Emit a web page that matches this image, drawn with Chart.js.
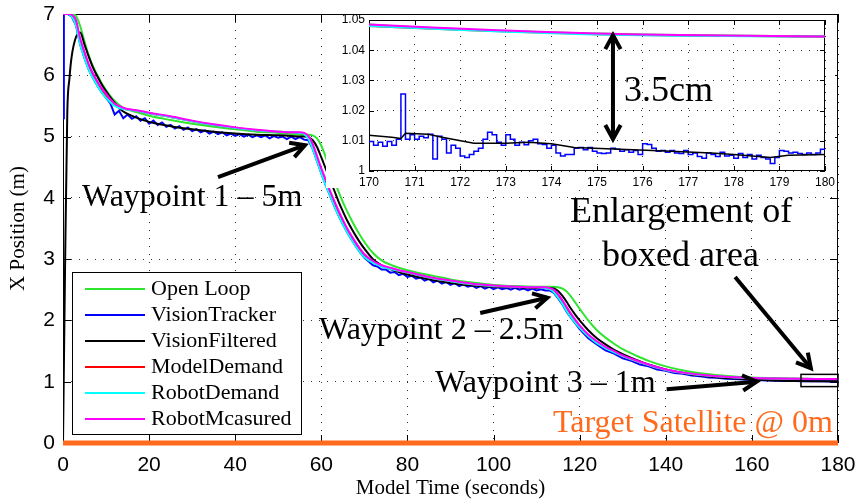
<!DOCTYPE html>
<html lang="en">
<head>
<meta charset="UTF-8">
<title>X Position vs Model Time</title>
<script src="https://cdn.jsdelivr.net/npm/chart.js"></script>
<style>
  body { margin: 0; background: #fff; }
  #wrap { position: relative; width: 857px; height: 503px; }
  #zoomBox { position: absolute; left: 326px; top: 15px; width: 509px; height: 173px; }
</style>
</head>
<body>
<div id="wrap">
  <canvas id="mainChart" width="857" height="503"></canvas>
  <div id="zoomBox"><canvas id="zoomChart" width="509" height="173"></canvas></div>
</div>
<script>
// sample times (s) shared by the smooth traces
const tGrid = [0, 0.5, 1, 1.5, 2,
  3, 4, 5, 6, 7, 8, 9, 10, 11, 12, 13, 14, 15,
  17, 20, 25, 30, 35, 40, 45, 50, 53, 55,
  56, 57, 58, 59, 60, 61, 62, 63, 64, 65, 66, 67, 68, 69, 70,
  72, 74, 76, 78, 80,
  85, 90, 95, 100, 105, 110,
  112, 113, 114, 115, 116, 117, 118, 119, 120,
  122, 124, 126, 128, 130,
  133, 136, 140, 145, 150, 155, 160, 165, 170, 175, 180];

const openLoop = [7.0, 7.0, 7.0, 7.0, 7.0,
  6.97, 6.8, 6.55, 6.32, 6.14, 6.0, 5.87, 5.76, 5.66, 5.58, 5.52, 5.47, 5.44,
  5.4, 5.34, 5.27, 5.21, 5.16, 5.12, 5.08, 5.06, 5.04, 5.03,
  5.03, 5.03, 5.02, 4.97, 4.85, 4.67, 4.47, 4.28, 4.1, 3.93, 3.78, 3.64, 3.51, 3.39, 3.28,
  3.1, 2.98, 2.91, 2.86, 2.82,
  2.74, 2.67, 2.62, 2.58, 2.56, 2.55,
  2.55, 2.55, 2.55, 2.54, 2.52, 2.47, 2.39, 2.29, 2.19,
  2.0, 1.84, 1.72, 1.62, 1.53,
  1.43, 1.34, 1.25, 1.17, 1.12, 1.088, 1.068, 1.056, 1.0485, 1.0455, 1.0445];

const visionFiltered = [0, 3.0, 5.4, 5.95, 6.3,
  6.62, 6.7, 6.5, 6.3, 6.12, 5.98, 5.85, 5.74, 5.64, 5.55, 5.47, 5.41, 5.37,
  5.31, 5.24, 5.17, 5.12, 5.08, 5.05, 5.03, 5.02, 5.01, 5.0,
  5.0, 4.99, 4.94, 4.83, 4.66, 4.48, 4.3, 4.12, 3.94, 3.78, 3.63, 3.5, 3.38, 3.27, 3.17,
  3.0, 2.9, 2.84, 2.79, 2.75,
  2.67, 2.61, 2.57, 2.55, 2.54, 2.53,
  2.53, 2.53, 2.52, 2.48, 2.4, 2.3, 2.19, 2.09, 2.0,
  1.84, 1.71, 1.61, 1.52, 1.45,
  1.36, 1.28, 1.2, 1.13, 1.085, 1.055, 1.035, 1.02, 1.012, 1.007, 1.0055];

const modelDemand = [7.0, 7.0, 7.0, 7.0, 6.97,
  6.86, 6.55, 6.33, 6.13, 5.99, 5.86, 5.75, 5.66, 5.58, 5.52, 5.48, 5.46, 5.44,
  5.42, 5.38, 5.32, 5.25, 5.19, 5.14, 5.1, 5.08, 5.07, 5.06,
  5.05, 4.98, 4.84, 4.64, 4.44, 4.25, 4.08, 3.91, 3.75, 3.6, 3.47, 3.35, 3.24, 3.14, 3.05,
  2.95, 2.89, 2.85, 2.81, 2.78,
  2.7, 2.64, 2.59, 2.56, 2.55, 2.54,
  2.53, 2.52, 2.48, 2.4, 2.3, 2.18, 2.08, 1.98, 1.9,
  1.75, 1.64, 1.56, 1.49, 1.42,
  1.34, 1.27, 1.19, 1.135, 1.098, 1.074, 1.06, 1.052, 1.048, 1.0453, 1.0445];

const robotDemand = [7.0, 7.0, 7.0, 6.99, 6.96,
  6.82, 6.5, 6.28, 6.09, 5.95, 5.83, 5.72, 5.63, 5.56, 5.5, 5.47, 5.45, 5.44,
  5.42, 5.38, 5.32, 5.25, 5.19, 5.14, 5.1, 5.08, 5.07, 5.06,
  5.04, 4.96, 4.8, 4.6, 4.4, 4.21, 4.04, 3.87, 3.71, 3.57, 3.44, 3.32, 3.21, 3.11, 3.03,
  2.94, 2.88, 2.84, 2.81, 2.78,
  2.7, 2.64, 2.59, 2.56, 2.55, 2.54,
  2.53, 2.51, 2.46, 2.37, 2.27, 2.15, 2.05, 1.96, 1.88,
  1.74, 1.63, 1.55, 1.48, 1.42,
  1.34, 1.27, 1.19, 1.135, 1.097, 1.073, 1.059, 1.052, 1.048, 1.0452, 1.0445];

const robotMeasured = [7.0, 7.0, 7.0, 7.0, 6.99,
  6.9, 6.6, 6.38, 6.18, 6.03, 5.9, 5.79, 5.7, 5.61, 5.54, 5.5, 5.47, 5.45,
  5.43, 5.39, 5.33, 5.26, 5.2, 5.15, 5.11, 5.08, 5.07, 5.07,
  5.06, 5.01, 4.88, 4.68, 4.48, 4.3, 4.12, 3.95, 3.79, 3.64, 3.5, 3.38, 3.27, 3.17, 3.08,
  2.97, 2.9, 2.86, 2.82, 2.79,
  2.71, 2.65, 2.6, 2.57, 2.55, 2.54,
  2.54, 2.53, 2.5, 2.43, 2.33, 2.22, 2.11, 2.01, 1.92,
  1.77, 1.66, 1.57, 1.5, 1.43,
  1.35, 1.28, 1.2, 1.14, 1.1, 1.075, 1.06, 1.053, 1.0485, 1.0455, 1.0445];

// raw tracker output is noisy, so it has its own sample times
const tTracker = [0, 0.2, 1, 2, 3, 4, 5, 6, 7, 8, 9, 10, 11,
  12, 13, 14, 15, 16, 17, 18, 19, 20, 21, 22, 23, 24, 25, 26, 27, 28, 29, 30, 31, 32, 33, 34,
  35, 36, 37, 38, 39, 40, 41, 42, 43, 44, 45, 46, 47, 48, 49, 50, 51, 52, 53, 54, 55, 56,
  57, 58, 59, 60, 61, 62, 63, 64, 65, 66, 67, 68, 69, 70,
  71, 72, 73, 74, 75, 76, 77, 78, 79, 80, 81, 82, 83, 84, 85, 86, 87, 88, 89, 90,
  91, 92, 93, 94, 95, 96, 97, 98, 99, 100, 101, 102, 103, 104, 105, 106, 107, 108, 109, 110, 111, 112,
  113, 114, 115, 116, 117, 118, 119, 120,
  122, 124, 126, 128, 130, 132, 134, 136, 138, 140, 142, 144, 146, 148, 150,
  152, 154, 156, 158, 160, 162, 164, 166, 168, 170,
  172, 174, 176, 178, 180];

const visionTracker = [5.3, 7.0, 7.0, 6.96, 6.82, 6.5, 6.28, 6.09, 5.95, 5.83, 5.72, 5.63, 5.54,
  5.36, 5.42, 5.3, 5.36, 5.29, 5.33, 5.26, 5.3, 5.21, 5.26, 5.19, 5.23, 5.16, 5.19, 5.13, 5.17, 5.11, 5.15, 5.09, 5.12, 5.07, 5.1, 5.05,
  5.08, 5.04, 5.07, 5.02, 5.05, 5.01, 5.04, 5.0, 5.03, 4.99, 5.02, 4.99, 5.02, 4.97, 5.01, 4.98, 5.0, 4.96, 5.0, 4.96, 4.99, 4.95,
  4.94, 4.8, 4.6, 4.4, 4.21, 4.04, 3.87, 3.71, 3.57, 3.44, 3.32, 3.21, 3.11, 3.02,
  2.96, 2.9, 2.88, 2.83, 2.83, 2.78, 2.79, 2.74, 2.76, 2.71, 2.73, 2.68, 2.7, 2.65, 2.68, 2.62, 2.65, 2.6, 2.63, 2.58,
  2.61, 2.56, 2.59, 2.55, 2.57, 2.53, 2.56, 2.52, 2.55, 2.51, 2.54, 2.51, 2.53, 2.5, 2.53, 2.5, 2.52, 2.49, 2.52, 2.49, 2.51, 2.49,
  2.49, 2.45, 2.36, 2.26, 2.14, 2.04, 1.95, 1.86,
  1.71, 1.61, 1.51, 1.46, 1.38, 1.34, 1.28, 1.25, 1.2, 1.18, 1.14, 1.13, 1.1, 1.09, 1.07,
  1.065, 1.05, 1.045, 1.035, 1.032, 1.022, 1.02, 1.014, 1.013, 1.01,
  1.008, 1.006, 1.007, 1.005, 1.007];

// enlarged window 170-180 s
const tZoom = [170, 170.1, 170.2, 170.3, 170.4, 170.5, 170.6, 170.7, 170.8, 170.9,
  171, 171.1, 171.2, 171.3, 171.4, 171.5, 171.6, 171.7, 171.8, 171.9,
  172, 172.1, 172.2, 172.3, 172.4, 172.5, 172.6, 172.7, 172.8, 172.9,
  173, 173.1, 173.2, 173.3, 173.4, 173.5, 173.6, 173.7, 173.8, 173.9,
  174, 174.1, 174.2, 174.3, 174.4, 174.5, 174.6, 174.7, 174.8, 174.9,
  175, 175.1, 175.2, 175.3, 175.4, 175.5, 175.6, 175.7, 175.8, 175.9,
  176, 176.1, 176.2, 176.3, 176.4, 176.5, 176.6, 176.7, 176.8, 176.9,
  177, 177.1, 177.2, 177.3, 177.4, 177.5, 177.6, 177.7, 177.8, 177.9,
  178, 178.1, 178.2, 178.3, 178.4, 178.5, 178.6, 178.7, 178.8, 178.9,
  179, 179.1, 179.2, 179.3, 179.4, 179.5, 179.6, 179.7, 179.8, 179.9, 180];

const trackerZoom = [1.0098, 1.0085, 1.0095, 1.0082, 1.0098, 1.0085, 1.0105, 1.0255, 1.0105, 1.012,
  1.0105, 1.0115, 1.011, 1.0122, 1.004, 1.0115, 1.0105, 1.006, 1.0085, 1.0075,
  1.005, 1.0045, 1.0055, 1.0065, 1.0075, 1.0105, 1.0128, 1.012, 1.0095, 1.0085,
  1.012, 1.0105, 1.0085, 1.0095, 1.0087, 1.01, 1.0105, 1.009, 1.0088, 1.0075,
  1.0085, 1.006, 1.005, 1.0055, 1.0055, 1.0075, 1.0078, 1.007, 1.0078, 1.0065,
  1.006, 1.0058, 1.006, 1.0075, 1.0072, 1.0065, 1.007, 1.0062, 1.0068, 1.0055,
  1.009, 1.0088, 1.0075, 1.0065, 1.0068, 1.0062, 1.0068, 1.006, 1.0058, 1.0068,
  1.0055, 1.006, 1.0048, 1.0042, 1.006, 1.0055, 1.0048, 1.0062, 1.005, 1.0052,
  1.0042, 1.0058, 1.0045, 1.0055, 1.004, 1.0052, 1.0045, 1.004, 1.0025, 1.0045,
  1.0068, 1.0065, 1.006, 1.0062, 1.0058, 1.0055, 1.006, 1.0055, 1.006, 1.0072, 1.0068];

const tFilteredZoom = [170, 170.5, 170.7, 170.8, 171.3, 171.6, 172.3, 173, 173.5, 174, 174.5, 175.5, 176.5, 177.5, 178, 178.8, 179.2, 180];
const filteredZoom = [1.0118, 1.0112, 1.0108, 1.0125, 1.0122, 1.0112, 1.0092, 1.0092, 1.0095, 1.009, 1.0078, 1.0072, 1.0066, 1.006, 1.0055, 1.0045, 1.0052, 1.0055];

const tSatellite = [0, 180];
const satellite = [0, 0];

const serif = '"Liberation Serif", "Times New Roman", serif';
const sans = '"Liberation Sans", Arial, sans-serif';
const orange = '#ff6a1c';

const pts = (ts, vs) => ts.map((t, i) => ({ x: t, y: vs[i] }));

const traces = [
  { label: 'Open Loop',      color: '#2ee62e', t: tGrid,    v: openLoop },
  { label: 'VisionTracker',  color: '#0000ff', t: tTracker, v: visionTracker, raw: true },
  { label: 'VisionFiltered', color: '#000000', t: tGrid,    v: visionFiltered },
  { label: 'ModelDemand',    color: '#ff0000', t: tGrid,    v: modelDemand },
  { label: 'RobotDemand',    color: '#00ffff', t: tGrid,    v: robotDemand },
  { label: 'RobotMcasured',  color: '#ff00ff', t: tGrid,    v: robotMeasured }
];

function lineSet(tr, i, data, extra) {
  return Object.assign({
    label: tr.label,
    data: data,
    borderColor: tr.color,
    borderWidth: 2,
    pointRadius: 0,
    tension: 0,
    cubicInterpolationMode: tr.raw ? 'default' : 'monotone',
    order: traces.length - i
  }, extra || {});
}

// fixed axis sizes, and no extra room for the end labels
const fixX = h => s => { s.height = h; s.paddingLeft = 0; s.paddingRight = 0; };
const fixY = w => s => { s.width = w; s.paddingTop = 0; s.paddingBottom = 0; };

// box + inward ticks like the original plot
const framePlugin = {
  id: 'frame',
  beforeDatasetsDraw(chart, args, opts) {
    const { ctx, chartArea: a, scales: { x, y } } = chart;
    const len = opts.len || 6;
    ctx.save();
    ctx.strokeStyle = '#000';
    ctx.lineWidth = 1;
    ctx.strokeRect(a.left + 0.5, a.top + 0.5, a.width - 1, a.height - 1);
    ctx.beginPath();
    x.ticks.forEach(t => {
      const px = Math.round(x.getPixelForValue(t.value)) + 0.5;
      ctx.moveTo(px, a.bottom); ctx.lineTo(px, a.bottom - len);
      ctx.moveTo(px, a.top); ctx.lineTo(px, a.top + len);
    });
    y.ticks.forEach(t => {
      const py = Math.round(y.getPixelForValue(t.value)) + 0.5;
      ctx.moveTo(a.left, py); ctx.lineTo(a.left + len, py);
      ctx.moveTo(a.right, py); ctx.lineTo(a.right - len, py);
    });
    ctx.stroke();
    ctx.restore();
  }
};

function drawArrow(ctx, from, to, both) {
  const head = 16;
  ctx.beginPath();
  ctx.moveTo(from[0], from[1]);
  ctx.lineTo(to[0], to[1]);
  ctx.stroke();
  const tip = (p, q) => {
    const ang = Math.atan2(p[1] - q[1], p[0] - q[0]);
    ctx.beginPath();
    ctx.moveTo(p[0] - head * Math.cos(ang - 0.5), p[1] - head * Math.sin(ang - 0.5));
    ctx.lineTo(p[0], p[1]);
    ctx.lineTo(p[0] - head * Math.cos(ang + 0.5), p[1] - head * Math.sin(ang + 0.5));
    ctx.stroke();
  };
  tip(to, from);
  if (both) tip(from, to);
}

// annotations in data coordinates
const mainArrows = [
  [36.0, 4.34, 56.2, 4.86],
  [96.9, 2.12, 112.5, 2.37],
  [140.2, 0.876, 161.1, 1.0],
  [156.1, 2.71, 173.7, 1.22]
];
const mainTexts = [
  { text: 'Waypoint 1 \u2013 5m', x: 4.41, y: 3.87, size: 32 },
  { text: 'Waypoint 2 \u2013 2.5m', x: 59.46, y: 1.70, size: 32 },
  { text: 'Waypoint 3 \u2013 1m', x: 86.4, y: 0.83, size: 32 },
  { text: 'Target Satellite @ 0m', x: 113.8, y: 0.18, size: 32, color: orange },
  { text: 'Enlargement of', x: 117.75, y: 3.606, size: 36 },
  { text: 'boxed area', x: 125.2, y: 2.888, size: 36 }
];

const mainNotes = {
  id: 'mainNotes',
  afterDatasetsDraw(chart) {
    const { ctx, scales: { x, y } } = chart;
    const px = (t, v) => [x.getPixelForValue(t), y.getPixelForValue(v)];
    ctx.save();
    const p0 = px(171.4, 1.12), p1 = px(180, 0.92);
    ctx.strokeStyle = '#000';
    ctx.lineWidth = 1.5;
    ctx.strokeRect(p0[0], p0[1], p1[0] - p0[0], p1[1] - p0[1]);
    ctx.lineWidth = 4;
    mainArrows.forEach(a => drawArrow(ctx, px(a[0], a[1]), px(a[2], a[3])));
    ctx.textBaseline = 'alphabetic';
    ctx.textAlign = 'left';
    mainTexts.forEach(n => {
      ctx.font = n.size + 'px ' + serif;
      ctx.fillStyle = n.color || '#000';
      const p = px(n.x, n.y);
      ctx.fillText(n.text, p[0], p[1]);
    });
    // axis titles
    ctx.fillStyle = '#000';
    ctx.font = '21px ' + serif;
    ctx.textAlign = 'center';
    ctx.fillText('Model Time (seconds)', (chart.chartArea.left + chart.chartArea.right) / 2, 494);
    ctx.save();
    ctx.translate(24, (chart.chartArea.top + chart.chartArea.bottom) / 2);
    ctx.rotate(-Math.PI / 2);
    ctx.fillText('X Position (m)', 0, 0);
    ctx.restore();
    ctx.restore();
  }
};

const legendPlugin = {
  id: 'boxLegend',
  afterDraw(chart) {
    const ctx = chart.ctx;
    const box = { left: 72, top: 272, width: 229, height: 162 };
    ctx.save();
    ctx.fillStyle = '#fff';
    ctx.fillRect(box.left, box.top, box.width, box.height);
    ctx.strokeStyle = '#000';
    ctx.lineWidth = 1;
    ctx.strokeRect(box.left + 0.5, box.top + 0.5, box.width, box.height);
    ctx.font = '22px ' + serif;
    ctx.textBaseline = 'middle';
    ctx.textAlign = 'left';
    traces.forEach((tr, i) => {
      const yy = box.top + 17 + i * 26;
      ctx.strokeStyle = tr.color;
      ctx.lineWidth = 2;
      ctx.beginPath();
      ctx.moveTo(box.left + 13, yy);
      ctx.lineTo(box.left + 73, yy);
      ctx.stroke();
      ctx.fillStyle = '#000';
      ctx.fillText(tr.label, box.left + 79, yy);
    });
    ctx.restore();
  }
};

const dotted = { color: '#333', lineWidth: 1, drawTicks: false };
const dots = { display: false, dash: [1, 7] };

new Chart(document.getElementById('mainChart'), {
  type: 'line',
  data: {
    datasets: traces.map((tr, i) => lineSet(tr, i, pts(tr.t, tr.v))).concat([{
      label: 'Target Satellite',
      data: pts(tSatellite, satellite),
      borderColor: orange,
      borderWidth: 5,
      pointRadius: 0,
      clip: false,
      order: 0
    }])
  },
  options: {
    responsive: false,
    animation: false,
    events: [],
    layout: { padding: { top: 14, right: 19, left: 0, bottom: 0 }, autoPadding: false },
    plugins: { legend: { display: false }, tooltip: { enabled: false }, frame: { len: 8 } },
    scales: {
      x: {
        type: 'linear', min: 0, max: 180,
        ticks: { stepSize: 20, color: '#000', font: { family: sans, size: 21 }, padding: 10, maxRotation: 0, autoSkip: false },
        grid: dotted, border: dots,
        afterFit: fixX(60)
      },
      y: {
        type: 'linear', min: 0, max: 7,
        ticks: { stepSize: 1, color: '#000', font: { family: sans, size: 21 }, padding: 8 },
        grid: dotted, border: dots,
        afterFit: fixY(63)
      }
    }
  },
  plugins: [framePlugin, mainNotes, legendPlugin]
});

// ---- enlargement inset ----
const zoomNotes = {
  id: 'zoomNotes',
  beforeDraw(chart) {
    const ctx = chart.ctx;
    ctx.save();
    ctx.fillStyle = '#fff';
    ctx.fillRect(0, 0, chart.width, chart.height);
    ctx.restore();
  },
  afterDatasetsDraw(chart) {
    const { ctx, scales: { x, y } } = chart;
    const px = (t, v) => [x.getPixelForValue(t), y.getPixelForValue(v)];
    ctx.save();
    ctx.strokeStyle = '#000';
    ctx.lineWidth = 4;
    drawArrow(ctx, px(175.35, 1.0106), px(175.35, 1.045), true);
    ctx.fillStyle = '#000';
    ctx.font = '36px ' + serif;
    ctx.textAlign = 'left';
    ctx.textBaseline = 'alphabetic';
    const p = px(175.59, 1.0232);
    ctx.fillText('3.5cm', p[0], p[1]);
    ctx.restore();
  }
};

const zoomData = traces.map((tr, i) => {
  if (tr.label === 'VisionTracker') return lineSet(tr, i, pts(tZoom, trackerZoom), { stepped: true, borderWidth: 1.5 });
  if (tr.label === 'VisionFiltered') return lineSet(tr, i, pts(tFilteredZoom, filteredZoom), { borderWidth: 1.5, cubicInterpolationMode: 'default' });
  return lineSet(tr, i, pts(tr.t, tr.v));
});

new Chart(document.getElementById('zoomChart'), {
  type: 'line',
  data: { datasets: zoomData },
  options: {
    responsive: false,
    animation: false,
    events: [],
    layout: { padding: { top: 5, right: 10, left: 0, bottom: 0 }, autoPadding: false },
    plugins: { legend: { display: false }, tooltip: { enabled: false }, frame: { len: 5 } },
    scales: {
      x: {
        type: 'linear', min: 170, max: 180,
        ticks: { stepSize: 1, color: '#000', font: { family: sans, size: 12 }, padding: 4, maxRotation: 0, autoSkip: false },
        grid: dotted, border: dots,
        afterFit: fixX(17)
      },
      y: {
        type: 'linear', min: 1, max: 1.05,
        ticks: { stepSize: 0.01, color: '#000', font: { family: sans, size: 12 }, padding: 4,
                 callback: v => String(+v.toFixed(2)) },
        grid: dotted, border: dots,
        afterFit: fixY(43)
      }
    }
  },
  plugins: [framePlugin, zoomNotes]
});
</script>
</body>
</html>
